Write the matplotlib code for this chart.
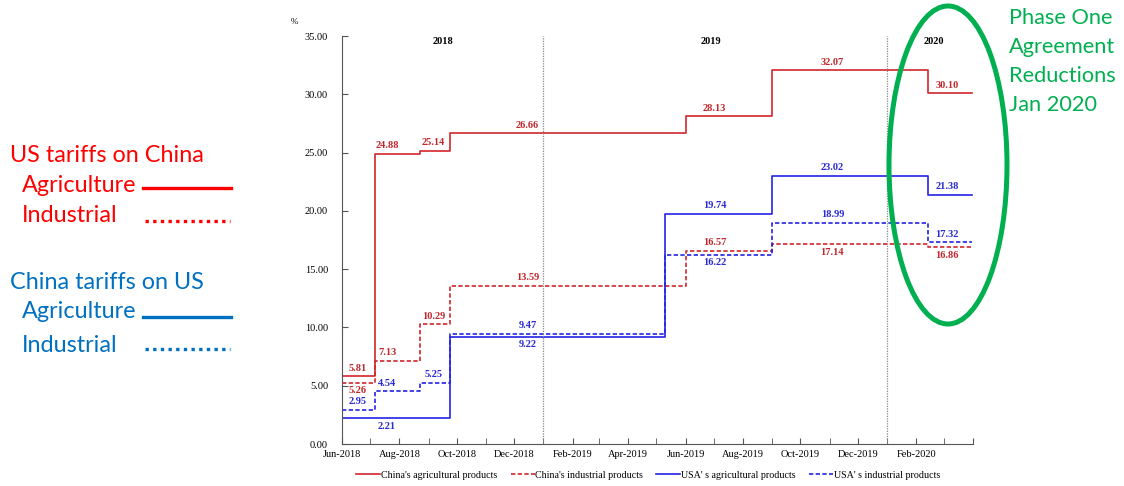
import datetime as dt
import matplotlib
matplotlib.use("Agg")
import matplotlib.pyplot as plt
import matplotlib.dates as mdates
from matplotlib.lines import Line2D
from matplotlib.patches import Ellipse

plt.rcParams['font.family'] = ['Liberation Serif', 'DejaVu Serif']

D = dt.date

# step dates (value holds from that date on)
dates_a = [D(2018, 6, 1), D(2018, 7, 6), D(2018, 8, 23), D(2018, 9, 24),
           D(2019, 6, 1), D(2019, 9, 1), D(2020, 2, 14), D(2020, 3, 31)]
china_agri = [5.81, 24.88, 25.14, 26.66, 28.13, 32.07, 30.10, 30.10]
china_ind = [5.26, 7.13, 10.29, 13.59, 16.57, 17.14, 16.86, 16.86]

dates_b = [D(2018, 6, 1), D(2018, 9, 24), D(2019, 5, 10), D(2019, 9, 1),
           D(2020, 2, 14), D(2020, 3, 31)]
usa_agri = [2.21, 9.22, 19.74, 23.02, 21.38, 21.38]

dates_c = [D(2018, 6, 1), D(2018, 7, 6), D(2018, 8, 23), D(2018, 9, 24),
           D(2019, 5, 10), D(2019, 9, 1), D(2020, 2, 14), D(2020, 3, 31)]
usa_ind = [2.95, 4.54, 5.25, 9.47, 16.22, 18.99, 17.32, 17.32]

legend_labels = ["China's agricultural products", "China's industrial products",
                 "USA' s agricultural products", "USA' s industrial products"]

years = ["2018", "2019", "2020"]

# where the value labels sit along x
label_cols = [D(2018, 6, 18), D(2018, 7, 19), D(2018, 9, 6), D(2018, 12, 15),
              D(2019, 7, 2), D(2019, 11, 4), D(2020, 3, 5)]

RED = '#d2262c'
BLUE = '#2424e6'
RED_T = '#c0282c'
BLUE_T = '#2a2ad2'

W, H = 1124, 486
fig = plt.figure(figsize=(W / 100, H / 100), dpi=100)


def fx(px):
    return px / W


def fy(py):
    return 1 - py / H


ax = fig.add_axes([fx(342), fy(444), fx(972.7) - fx(342), fy(36) - fy(444)])

dash = (0, (2.6, 1.4))
ax.step(dates_a, china_agri, where='post', color=RED, lw=1.2, label=legend_labels[0])
ax.step(dates_a, china_ind, where='post', color=RED, lw=1.2, ls=dash, label=legend_labels[1])
ax.step(dates_b, usa_agri, where='post', color=BLUE, lw=1.2, label=legend_labels[2])
ax.step(dates_c, usa_ind, where='post', color=BLUE, lw=1.2, ls=dash, label=legend_labels[3])

# value labels: (values, column index for each, above/below, colour)
labels = [
    (china_agri[:-1], [0, 1, 2, 3, 4, 5, 6], 'aaaaaaa', RED_T),
    (china_ind[:-1], [0, 1, 2, 3, 4, 5, 6], 'baaaabb', RED_T),
    (usa_agri[:-1], [1, 3, 4, 5, 6], 'bbaaa', BLUE_T),
    (usa_ind[:-1], [0, 1, 2, 3, 4, 5, 6], 'aaaabaa', BLUE_T),
]
for vals, cols, sides, col in labels:
    for v, c, s in zip(vals, cols, sides):
        off = 2.5 if s == 'a' else -2.5
        ax.annotate(f"{v:.2f}", (label_cols[c], v), xytext=(0, off),
                    textcoords='offset points', ha='center',
                    va='bottom' if s == 'a' else 'top',
                    fontsize=7.5, fontweight='bold', color=col)

for d in [D(2019, 1, 1), D(2020, 1, 1)]:
    ax.axvline(d, color='#888888', lw=0.9, ls=(0, (1, 1)))

for y, d in zip(years, [D(2018, 9, 16), D(2019, 6, 28), D(2020, 2, 20)]):
    ax.text(d, 34.5, y, ha='center', va='center', fontsize=7.5, fontweight='bold')


def month_label(x, pos):
    d = mdates.num2date(x)
    if d.year == 2020 and d.month == 4:
        return ''
    return d.strftime('%b-%Y')


ax.set_xlim(D(2018, 6, 1), D(2020, 4, 1))
ax.set_ylim(0, 35)
ax.set_yticks(range(0, 36, 5))
ax.yaxis.set_major_formatter(matplotlib.ticker.FormatStrFormatter('%.2f'))
ax.xaxis.set_major_locator(mdates.MonthLocator(bymonth=[2, 4, 6, 8, 10, 12]))
ax.xaxis.set_minor_locator(mdates.MonthLocator())
ax.xaxis.set_major_formatter(matplotlib.ticker.FuncFormatter(month_label))
ax.tick_params(direction='in', length=4, labelsize=7.5, color='#555555')
ax.tick_params(axis='y', pad=10)
ax.tick_params(axis='x', pad=4)
ax.tick_params(which='minor', direction='in', length=4, color='#555555')
for sp in ['top', 'right']:
    ax.spines[sp].set_visible(False)
for sp in ['left', 'bottom']:
    ax.spines[sp].set_color('#555555')
ax.patch.set_alpha(0)

fig.text(fx(294), fy(22), '%', fontsize=6.5, ha='center', va='center')

fig.legend(loc='center', bbox_to_anchor=(fx(648), fy(475)), ncol=4, frameon=False,
           fontsize=7.2, handlelength=2.4, handletextpad=0.05, columnspacing=1.35)

# left-hand key
sans = ['Lato', 'DejaVu Sans']
key_red = '#ff0000'
key_blue = '#0070c0'
ks = 16.8
fig.text(fx(10), fy(155), 'US tariffs on China', family=sans, fontsize=ks, color=key_red, va='center')
fig.text(fx(22), fy(185), 'Agriculture', family=sans, fontsize=ks, color=key_red, va='center')
fig.text(fx(22), fy(216), 'Industrial', family=sans, fontsize=ks, color=key_red, va='center')
fig.text(fx(10), fy(282), 'China tariffs on US', family=sans, fontsize=ks, color=key_blue, va='center')
fig.text(fx(22), fy(312), 'Agriculture', family=sans, fontsize=ks, color=key_blue, va='center')
fig.text(fx(22), fy(345), 'Industrial', family=sans, fontsize=ks, color=key_blue, va='center')
fig.add_artist(Line2D([fx(143), fx(231)], [fy(188)] * 2, transform=fig.transFigure, color=key_red, lw=2.4))
fig.add_artist(Line2D([fx(145), fx(230)], [fy(221)] * 2, transform=fig.transFigure, color=key_red, lw=2.4,
                      ls=(0, (1, 1.3))))
fig.add_artist(Line2D([fx(143), fx(231)], [fy(317)] * 2, transform=fig.transFigure, color=key_blue, lw=2.4))
fig.add_artist(Line2D([fx(145), fx(230)], [fy(349)] * 2, transform=fig.transFigure, color=key_blue, lw=2.4,
                      ls=(0, (1, 1.3))))

# phase one call-out
GREEN = '#00b050'
fig.add_artist(Ellipse((fx(948), fy(165)), 118 / W, 318 / H, transform=fig.transFigure,
                       fill=False, edgecolor=GREEN, lw=3.6))
for i, t in enumerate(['Phase One', 'Agreement', 'Reductions', 'Jan 2020']):
    fig.text(fx(1009), fy(18 + 29 * i), t, family=sans, fontsize=15.7, color=GREEN, va='center')

fig.savefig('out.png', dpi=100)
